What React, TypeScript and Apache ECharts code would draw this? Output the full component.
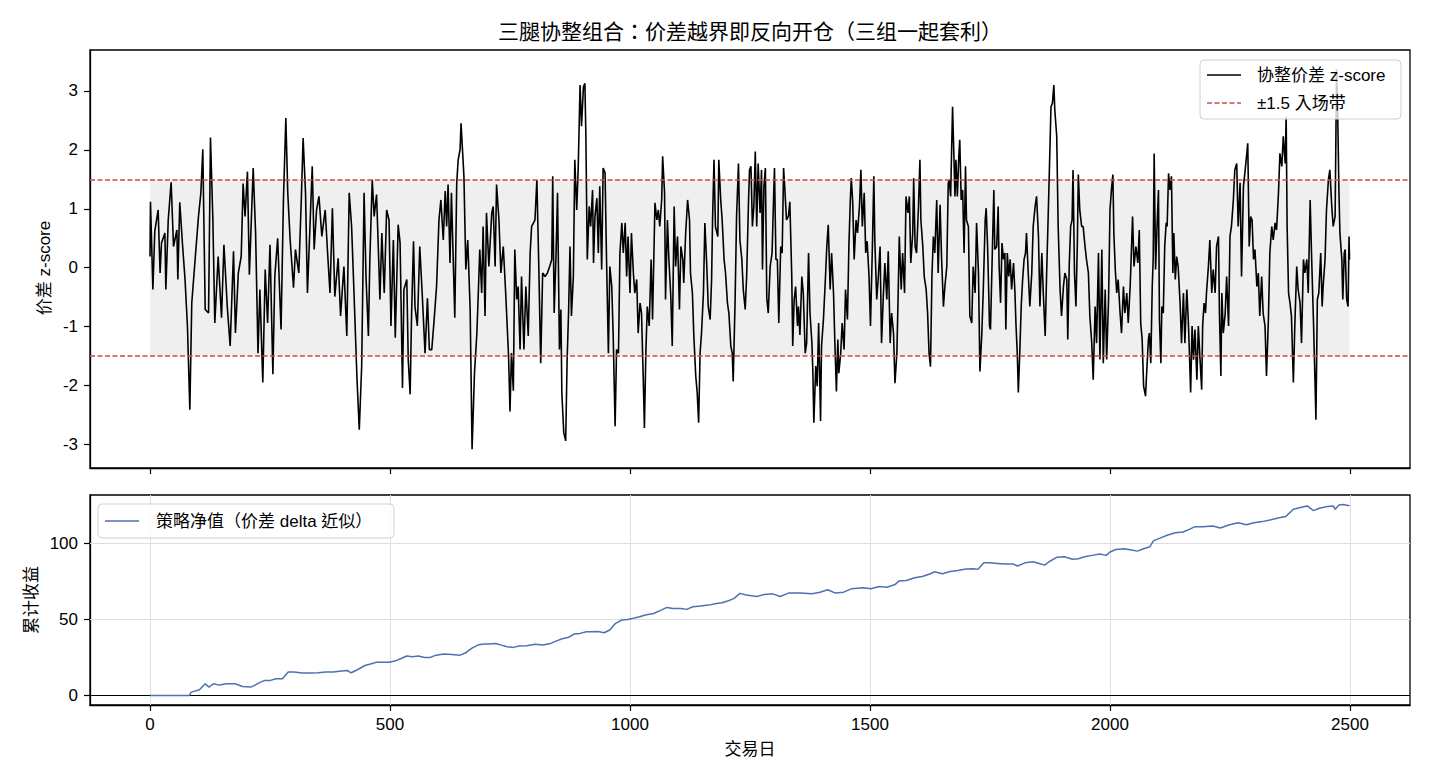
import React, { useEffect, useRef } from "react";
import * as echarts from "echarts";

const FONT = "'Liberation Sans', Arial, 'Noto Sans CJK TC', 'Noto Sans CJK SC', sans-serif";
const TITLE = "三腿协整组合：价差越界即反向开仓（三组一起套利）";
const Z_NAME = "协整价差 z-score";
const BAND_NAME = "±1.5 入场带";
const PNL_NAME = "策略净值（价差 delta 近似）";
const Y1_LABEL = "价差 z-score";
const Y2_LABEL = "累计收益";
const X_LABEL = "交易日";
const X_TICKS = [0, 500, 1000, 1500, 2000, 2500];
const Z_TICKS = [-3, -2, -1, 0, 1, 2, 3];
const PNL_TICKS = [0, 50, 100];
const ENTRY = 1.5;

// z-score of the spread: [trading day, z]
const zPart1: [number, number][] = [
  [0, 0.19], [1, 1.12], [6, -0.37], [10, 0.62], [17, 0.98], [21, -0.09], [24, 0.42], [31, 0.59], [33, -0.37], [38, 0.81],
  [44, 1.45], [49, 0.36], [56, 0.64], [58, -0.2], [62, 1.11], [68, 0.36], [73, -0.2], [78, -0.99], [83, -2.41], [87, -0.6],
  [94, 0.14], [101, 0.87], [106, 1.27], [110, 2.01], [115, -0.71], [122, -0.77], [126, 2.21], [131, 0.81], [135, -0.94], [142, 0.19],
  [149, -0.85], [154, 0.39], [161, -0.66], [167, -1.33], [174, 0.28], [178, -1.11], [184, -0.09], [190, 0.19], [194, 1.43], [198, 0.87],
  [203, 1.63], [207, -0.12], [215, 1.69], [220, 0.59], [225, -1.45], [229, -0.37], [235, -1.95], [240, -0.03], [245, -0.94], [250, 0.39],
  [256, -1.81], [260, -0.15], [266, 0.5], [273, -1.05], [278, 1.15], [283, 2.54], [287, 1.27], [292, 0.47], [299, -0.34], [303, 0.31],
  [310, -0.09], [315, 1.1], [319, 2.2], [324, 1.27], [328, -0.43], [333, 0.64], [338, 1.72], [342, 0.31], [347, 0.98], [352, 1.21],
  [358, 0.53], [365, 0.98], [370, 0.25], [375, -0.43], [380, 1.01], [385, -0.49], [392, 0.16], [397, -0.82], [404, 0.02], [410, -1.16],
  [415, 1.27],
];
const zPart2: [number, number][] = [
  [420, 0.7], [425, -0.43], [431, -1.84], [436, -2.75], [441, -1.67], [446, 1.27], [450, -0.15], [455, -1.16], [458, 0.14], [463, 1.49],
  [467, 0.87], [472, 1.24], [476, 0.25], [479, -0.54], [483, 0.59], [488, -0.43], [493, 0.98], [498, 0.81], [502, -0.99], [507, 0.47],
  [511, -1.19], [517, 0.73], [521, 0.42], [526, -2.04], [529, -0.37], [535, -0.2], [538, -1.56], [542, -2.15], [545, -0.77], [549, 0.45],
  [552, -0.66], [557, -0.99], [562, 0.36], [567, -0.43], [573, -1.45], [578, -0.52], [582, -1.39], [587, -1.39], [592, -0.88], [597, -0.32],
  [602, 0.81], [606, 1.15], [611, 0.47], [615, 1.3], [618, 0.7], [621, 1.41], [625, 0.08], [628, 1.27], [635, -0.85], [639, 1.43],
  [642, 1.83], [646, 2.01], [648, 2.45], [651, 2.0], [654, 1.55], [658, -0.03], [662, 0.47], [667, -0.71], [671, -3.08], [676, -1.79],
  [681, -1.11], [684, -0.43], [687, 0.31], [691, -0.43], [694, 0.7], [698, -0.82], [701, 0.93], [706, 0.02], [712, 0.93], [715, 1.04],
  [719, 0.02], [722, 1.41], [727, 0.81], [731, -0.09], [736, 0.36], [741, -0.43], [747, -1.5], [750, -2.44], [753, -1.45], [757, -2.09],
  [760, 0.31], [764, -0.54], [767, -0.32], [771, -1.39], [774, -0.15], [779, -1.39], [783, -0.32], [788, -1.16], [792, 0.25], [795, 0.7],
  [799, 0.76], [802, 0.81], [806, 1.49], [810, 0.02], [814, -1.62], [818, -0.09], [823, -0.15], [828, -0.09], [833, 0.03],
];
const zPart3: [number, number][] = [
  [837, 0.14], [839, 1.55], [842, -0.77], [846, 0.25], [849, 1.27], [853, -1.39], [856, -0.71], [858, -2.12], [862, -2.8], [866, -2.94],
  [869, -1.56], [872, -0.77], [875, 0.36], [878, -0.82], [882, -0.15], [885, 1.83], [889, 0.98], [892, 1.66], [896, 3.1], [899, 2.4],
  [903, 3.07], [906, 3.13], [908, 2.28], [911, 0.14], [915, 1.04], [918, 0.7], [922, 1.32], [924, 0.08], [927, 0.87], [931, 1.18],
  [934, 0.25], [937, 1.38], [941, -0.03], [944, 1.69], [948, 1.61], [951, 0.19], [955, -1.45], [958, 0.02], [962, -0.32], [965, -1.16],
  [969, -2.69], [972, -1.39], [976, -1.45], [979, 0.25], [983, 0.76], [986, 0.25], [990, 0.76], [993, -0.15], [996, 0.53], [1000, -0.43],
  [1003, 0.59], [1007, -0.09], [1010, -0.43], [1014, -0.2], [1017, -1.11], [1021, -0.6], [1024, -0.77], [1028, -2.01], [1030, -2.72], [1033, -1.45],
  [1036, -0.66], [1040, -0.99], [1044, 0.14], [1047, -0.88], [1052, 1.1], [1056, 0.81], [1059, 0.98], [1062, 0.7], [1066, 1.15], [1068, 1.89],
  [1072, 1.27], [1074, -0.54], [1078, 0.81], [1081, 0.14], [1085, -0.49], [1088, -1.33], [1092, 1.04], [1095, 0.02], [1099, 0.53], [1103, -0.71],
  [1106, 0.36], [1110, 0.14], [1112, -0.26], [1116, 0.59], [1120, 1.15], [1124, 0.81], [1126, -0.09], [1130, -0.43], [1133, -1.16], [1137, -1.84],
  [1140, -2.12], [1143, -2.63], [1146, -1.45], [1149, -1.11], [1153, -0.43], [1156, 0.76], [1160, 0.02], [1163, -0.66], [1167, -0.88], [1170, -0.2],
  [1172, 0.81], [1175, 1.83], [1178, 0.7], [1183, 0.53], [1185, 1.83], [1189, 1.15], [1192, 0.81], [1196, 0.14], [1199, -0.09], [1203, -0.6],
  [1206, -0.77], [1210, -1.33], [1213, -1.45], [1215, -1.93], [1219, -0.54], [1222, 0.87], [1226, 1.77], [1229, 0.47], [1233, 0.14], [1236, -0.37],
  [1240, -0.71], [1243, -0.15], [1247, 1.15], [1249, 1.66],
];
const zPart4: [number, number][] = [
  [1252, 1.72], [1255, 0.7], [1258, 1.04], [1261, 1.97], [1264, 0.7], [1267, 1.77], [1271, 0.93], [1274, 1.66], [1276, -0.03], [1279, 1.38],
  [1282, 1.69], [1285, -0.52], [1288, -0.77], [1292, 0.02], [1296, 0.25], [1299, 1.15], [1301, 1.69], [1304, 0.14], [1307, 0.14], [1310, -0.94],
  [1314, 0.36], [1317, 0.25], [1320, 1.69], [1323, 1.27], [1326, 0.81], [1330, 0.87], [1333, 1.12], [1337, -0.15], [1339, -1.33], [1342, -0.54],
  [1345, -0.32], [1349, -0.99], [1351, -0.66], [1354, -1.14], [1358, -0.15], [1361, -0.43], [1365, -1.45], [1368, -1.28], [1372, 0.25], [1375, -0.77],
  [1379, -1.28], [1381, -1.79], [1383, -2.63], [1387, -1.67], [1390, -2.01], [1393, -0.94], [1397, -2.6], [1399, -1.33], [1403, -0.88], [1407, -0.2],
  [1410, 0.36], [1413, 0.73], [1417, -0.37], [1420, 0.25], [1424, -0.43], [1427, -1.33], [1430, -2.1], [1433, -1.22], [1435, -1.79], [1439, -1.45],
  [1442, -0.94], [1446, -1.39], [1449, -0.37], [1453, -0.88], [1456, 0.36], [1459, 1.15], [1461, 1.52], [1464, 1.1], [1467, 0.14], [1471, 0.81],
  [1474, 0.59], [1478, 1.04], [1481, 1.66], [1484, 0.7], [1488, 1.27], [1491, 0.25], [1494, 0.45], [1498, -0.15], [1501, -0.99], [1505, 0.36],
  [1508, 1.55], [1510, 0.47], [1514, -0.54], [1517, -0.2], [1521, 0.36], [1524, -1.28], [1528, -0.43], [1531, 0.08], [1535, -0.54], [1538, 0.28],
  [1542, -1.28], [1545, -0.77], [1549, -1.11], [1552, -1.96], [1556, -1.45], [1559, -0.32], [1561, 0.53], [1565, -0.37], [1568, 0.25], [1572, -0.43],
  [1575, 1.21], [1579, 0.93], [1582, 1.21], [1585, 0.08], [1589, 0.59], [1591, 1.52], [1594, 0.36], [1597, 0.25], [1601, 1.04], [1604, 1.83],
  [1606, 0.81], [1610, 0.36], [1613, -0.15], [1617, -0.37], [1620, -0.77], [1623, -1.45], [1626, -1.68], [1629, -0.15], [1632, 0.53], [1635, 0.25],
  [1639, 1.15], [1642, -0.09], [1646, 1.07], [1649, 0.19], [1653, -0.66], [1656, -0.32], [1660, 0.02], [1663, 1.43],
];
const zPart5: [number, number][] = [
  [1665, 1.49], [1668, 1.21], [1670, 1.98], [1672, 2.73], [1675, 1.83], [1677, 1.21], [1679, 1.83], [1682, 1.21], [1685, 1.89], [1687, 2.17],
  [1690, 1.15], [1693, 1.32], [1696, 0.25], [1699, 1.72], [1701, 0.81], [1705, 0.7], [1708, -0.82], [1712, -0.94], [1715, 0.02], [1719, -0.43],
  [1722, 0.76], [1726, -0.09], [1729, -1.76], [1733, -1.11], [1736, -0.37], [1740, 0.81], [1742, 1.01], [1745, 0.36], [1749, -0.99], [1751, -1.05],
  [1755, 0.31], [1758, 1.32], [1760, 0.31], [1764, 0.36], [1767, 1.04], [1769, 0.02], [1772, -0.6], [1775, 0.42], [1778, 0.14], [1781, 0.25],
  [1783, -1.05], [1786, 0.25], [1789, -0.15], [1792, 0.14], [1795, -0.37], [1799, 0.08], [1802, -0.43], [1804, -0.94], [1807, -1.5], [1809, -2.12],
  [1812, -1.45], [1815, -0.66], [1818, -0.2], [1821, 0.14], [1824, 0.25], [1826, 0.59], [1830, -0.15], [1833, -0.66], [1837, -0.09], [1840, 0.7],
  [1844, 1.04], [1847, 1.21], [1851, 0.53], [1854, -0.66], [1858, 0.25], [1861, -0.43], [1865, -1.16], [1868, -0.09], [1871, 0.81], [1875, 2.06],
  [1877, 2.73], [1880, 2.79], [1883, 3.1], [1885, 2.68], [1889, 2.23], [1892, 0.7], [1896, -0.37], [1899, -0.82], [1903, -0.32], [1906, -0.09],
  [1910, -0.2], [1912, -1.22], [1915, 0.02], [1918, 0.7], [1921, 0.81], [1923, 1.66], [1926, -0.09], [1929, -0.66], [1932, 0.42], [1934, 1.58],
  [1937, 0.98], [1941, 0.7], [1944, 0.7], [1948, 0.36], [1951, 0.14], [1955, -0.09], [1958, -0.82], [1962, -1.28], [1965, -1.9], [1969, -0.66],
  [1972, -1.28], [1976, 0.25], [1979, -1.56], [1983, 0.31], [1986, -1.62], [1990, -0.37], [1993, -1.56], [1997, -0.54], [2000, 0.98], [2003, 1.32],
  [2006, 1.58], [2008, 0.59], [2011, -0.03], [2014, -0.43], [2017, -0.2], [2021, -0.77], [2024, -1.11], [2028, -0.32], [2031, -0.77], [2035, -0.43],
  [2038, -0.94], [2042, -0.32], [2044, 0.14], [2047, 0.87], [2050, 0.02], [2054, 0.36], [2058, 0.08], [2061, 0.64], [2064, -0.94], [2067, -1.22],
  [2070, -2.01], [2074, -2.18], [2076, -1.84], [2080, -1.22], [2082, -1.11],
];
const zPart6: [number, number][] = [
  [2085, -1.62], [2088, -0.32], [2090, 0.14], [2092, 1.94], [2095, -0.03], [2098, 0.7], [2101, 1.32], [2103, -0.88], [2106, -1.62], [2108, -0.66],
  [2111, -0.77], [2114, 0.36], [2117, 0.76], [2119, 0.7], [2122, 1.6], [2125, 1.32], [2128, 1.55], [2131, -0.09], [2133, 0.59], [2136, -0.2],
  [2139, 0.19], [2142, 0.02], [2146, -0.6], [2149, -1.28], [2153, -0.43], [2156, -1.28], [2160, -0.37], [2163, -0.88], [2165, -1.33], [2168, -2.12],
  [2171, -0.99], [2174, -1.56], [2177, -1.05], [2181, -1.9], [2184, -0.99], [2188, -1.62], [2191, -2.07], [2193, -0.99], [2196, -0.6], [2199, -0.77],
  [2201, -0.43], [2205, 0.02], [2208, 0.47], [2212, -0.43], [2215, -0.03], [2219, -0.43], [2222, 0.36], [2226, 0.53], [2228, -0.77], [2231, -1.84],
  [2233, -0.43], [2236, -1.11], [2240, -0.77], [2243, -0.15], [2247, -0.99], [2250, 0.53], [2253, 0.7], [2257, 1.15], [2260, 1.66], [2264, 1.77],
  [2267, 0.7], [2271, 1.44], [2274, -0.15], [2278, 1.38], [2281, 1.61], [2285, 1.94], [2287, 2.11], [2290, 0.36], [2293, 0.87], [2296, 0.81],
  [2299, 0.14], [2302, 0.31], [2306, -0.32], [2309, -0.09], [2312, -0.82], [2316, -0.15], [2319, -0.77], [2323, -0.99], [2326, -1.84], [2330, -0.88],
  [2333, 0.25], [2337, 0.7], [2340, 0.47], [2344, 0.76], [2347, 0.64], [2351, 1.27], [2354, 1.94], [2358, 1.72], [2361, 2.23], [2365, 1.77],
  [2367, 2.56], [2369, 0.7], [2372, -0.43], [2375, -0.6], [2378, -0.82], [2382, -1.95], [2385, -0.99], [2389, 0.02], [2392, -0.37], [2396, -0.6],
  [2399, -1.28], [2403, 0.14], [2406, -0.09], [2410, 0.14], [2413, -0.43], [2417, 1.15], [2420, 0.19], [2424, -0.94], [2427, -1.9], [2429, -2.58],
  [2432, -0.54], [2435, -0.43], [2439, 0.25], [2442, -0.66], [2444, -0.32], [2448, 0.14], [2451, 0.98], [2455, 1.49], [2458, 1.66], [2462, 1.04],
  [2465, 0.7], [2469, 0.87], [2472, 3.37], [2474, 2.8], [2477, 1.27], [2479, 0.59], [2483, 0.14], [2485, -0.54], [2488, 0.25], [2490, 0.31],
  [2493, -0.54], [2496, -0.66], [2498, 0.53], [2499, 0.14],
];

// cumulative strategy value: [trading day, value]
const pnlPart1: [number, number][] = [
  [0, 0], [82, 0], [86, 2.2], [103, 3.7], [115, 7.7], [123, 5.5], [132, 7.7], [144, 6.8], [160, 7.7], [177, 7.7],
  [193, 5.9], [210, 5.5], [218, 6.6], [226, 8.1], [239, 9.9], [251, 9.9], [263, 11.0], [276, 11.0], [288, 15.4], [300, 15.4],
  [317, 14.7], [333, 14.7], [350, 14.9], [366, 15.4], [382, 15.4], [399, 16.0], [411, 16.4], [419, 14.9], [432, 16.9], [448, 19.7],
  [461, 20.8], [473, 21.9], [485, 21.9], [498, 21.9], [510, 22.6], [522, 24.1], [535, 25.9], [547, 25.4], [559, 25.9], [572, 25.0],
  [584, 25.0], [596, 26.5], [613, 27.2], [629, 27.0], [646, 26.5], [658, 28.1], [670, 30.9], [683, 33.1], [695, 33.8], [707, 33.8],
  [720, 34.2], [732, 33.1], [744, 32.0], [757, 31.6], [769, 32.5], [785, 32.7], [802, 33.6], [818, 33.1], [835, 34.2], [847, 35.9],
  [859, 37.3], [872, 38.2], [884, 40.4], [896, 40.8], [909, 41.9], [921, 41.9], [933, 42.1], [946, 41.2], [958, 43.0], [970, 47.4],
  [983, 49.6], [995, 50.0], [1007, 50.7], [1020, 51.8], [1032, 52.9], [1049, 53.9], [1065, 56.1], [1077, 57.9], [1090, 57.2], [1106, 57.2],
  [1118, 56.6], [1131, 58.3], [1147, 58.8], [1164, 59.4], [1180, 60.5], [1192, 61.0], [1205, 62.3], [1217, 63.8], [1229, 67.1], [1242, 66.0],
];
const pnlPart2: [number, number][] = [
  [1264, 65.1], [1280, 66.4], [1297, 66.8], [1313, 65.1], [1330, 67.3], [1354, 67.3], [1379, 66.8], [1396, 67.9], [1412, 69.5], [1428, 67.3],
  [1445, 67.9], [1461, 70.1], [1486, 70.8], [1502, 70.1], [1519, 71.6], [1535, 71.2], [1552, 72.9], [1560, 75.2], [1576, 75.6], [1593, 77.4],
  [1609, 78.2], [1626, 80.0], [1634, 81.3], [1651, 80.0], [1667, 81.5], [1683, 82.2], [1700, 83.1], [1716, 83.3], [1725, 82.9], [1737, 87.2],
  [1749, 87.2], [1766, 86.8], [1782, 86.4], [1799, 86.4], [1807, 85.1], [1823, 87.2], [1840, 87.9], [1856, 86.4], [1864, 85.7], [1873, 87.9],
  [1889, 90.8], [1905, 91.2], [1922, 89.5], [1934, 89.9], [1947, 91.2], [1963, 92.1], [1979, 93.0], [1992, 92.1], [2000, 94.3], [2012, 96.0],
  [2029, 96.5], [2045, 95.6], [2057, 94.9], [2070, 96.5], [2083, 97.8], [2091, 101.8], [2103, 103.3], [2119, 105.3], [2136, 107.0], [2152, 107.5],
  [2165, 109.2], [2177, 111.0], [2193, 111.0], [2214, 111.4], [2230, 110.1], [2247, 112.1], [2267, 113.6], [2284, 112.3], [2300, 113.6], [2317, 114.3],
  [2333, 115.4], [2350, 116.7], [2366, 117.6], [2382, 122.4], [2399, 123.7], [2411, 124.6], [2424, 121.5], [2436, 123.1], [2453, 124.2], [2465, 124.6],
  [2469, 122.4], [2477, 125.3], [2485, 125.5], [2499, 124.8],
];

const zScore = [...zPart1, ...zPart2, ...zPart3, ...zPart4, ...zPart5, ...zPart6];
const pnl = [...pnlPart1, ...pnlPart2];

const TICK_STYLE = { color: "#000", width: 1.2 };
const LABEL_STYLE = { color: "#000", fontSize: 17, fontFamily: FONT };

function fmt(v: number) {
  return v < 0 ? "-" + Math.abs(v) : String(v);
}

export default function App() {
  const ref = useRef<HTMLDivElement>(null);
  useEffect(() => {
    if (!ref.current) return;
    const chart = echarts.init(ref.current, undefined, { renderer: "svg" });
    const first = zScore[0][0];
    const last = zScore[zScore.length - 1][0];
    const option: any = {
      animation: false,
      backgroundColor: "#fff",
      textStyle: { fontFamily: FONT },
      grid: [
        { left: 90, top: 50, width: 1320, height: 418, show: true, borderColor: "#000", borderWidth: 1.3, backgroundColor: "transparent" },
        { left: 90, top: 495, width: 1320, height: 210, show: true, borderColor: "#000", borderWidth: 1.3, backgroundColor: "transparent" },
      ],
      xAxis: [
        {
          type: "value", gridIndex: 0, min: -125, max: 2625,
          axisLine: { show: true, onZero: false, lineStyle: { color: "#000", width: 1.3 } },
          axisTick: { show: true, inside: false, length: 6, customValues: X_TICKS, lineStyle: TICK_STYLE },
          axisLabel: { show: false },
          splitLine: { show: false },
        },
        {
          type: "value", gridIndex: 1, min: -125, max: 2625,
          axisLine: { show: true, onZero: false, lineStyle: { color: "#000", width: 1.3 } },
          axisTick: { show: true, inside: false, length: 6, customValues: X_TICKS, lineStyle: TICK_STYLE },
          axisLabel: { show: true, customValues: X_TICKS, margin: 11, formatter: fmt, ...LABEL_STYLE },
          splitLine: { show: false },
        },
      ],
      yAxis: [
        {
          type: "value", gridIndex: 0, min: -3.4, max: 3.695,
          axisLine: { show: true, onZero: false, lineStyle: { color: "#000", width: 1.3 } },
          axisTick: { show: true, inside: false, length: 6, customValues: Z_TICKS, lineStyle: TICK_STYLE },
          axisLabel: { show: true, customValues: Z_TICKS, margin: 12, formatter: fmt, ...LABEL_STYLE },
          splitLine: { show: false },
        },
        {
          type: "value", gridIndex: 1, min: -6.28, max: 131.8,
          axisLine: { show: true, onZero: false, lineStyle: { color: "#000", width: 1.3 } },
          axisTick: { show: true, inside: false, length: 6, customValues: PNL_TICKS, lineStyle: TICK_STYLE },
          axisLabel: { show: true, customValues: PNL_TICKS, margin: 12, formatter: fmt, ...LABEL_STYLE },
          splitLine: { show: false },
        },
      ],
      series: [
        {
          type: "line", name: Z_NAME, xAxisIndex: 0, yAxisIndex: 0,
          data: zScore, symbol: "none", silent: true, z: 3,
          lineStyle: { color: "#000", width: 1.6 }, itemStyle: { color: "#000" },
          markArea: {
            silent: true, z: 1,
            itemStyle: { color: "#efefef", borderWidth: 0 },
            data: [[{ xAxis: first, yAxis: -ENTRY }, { xAxis: last, yAxis: ENTRY }]],
          },
          markLine: {
            silent: true, z: 5, symbol: ["none", "none"], label: { show: false },
            lineStyle: { color: "#C44E52", type: [5, 2.5], width: 1.7 },
            data: [{ yAxis: ENTRY }, { yAxis: -ENTRY }],
          },
        },
        {
          type: "line", name: PNL_NAME, xAxisIndex: 1, yAxisIndex: 1,
          data: pnl, symbol: "none", silent: true, z: 3,
          lineStyle: { color: "#4C72B0", width: 1.5 }, itemStyle: { color: "#4C72B0" },
          markLine: {
            silent: true, z: 1, symbol: ["none", "none"], label: { show: false },
            lineStyle: { color: "#dedede", type: "solid", width: 1 },
            data: [
              ...X_TICKS.map((x) => ({ xAxis: x })),
              ...PNL_TICKS.filter((v) => v !== 0).map((y) => ({ yAxis: y })),
              { yAxis: 0, lineStyle: { color: "#000", width: 1.2, type: "solid" } },
            ],
          },
        },
      ],
      graphic: [
        { type: "text", x: 750, y: 31, z: 100, style: { text: TITLE, fontSize: 21, fontFamily: FONT, fill: "#000", align: "center", verticalAlign: "middle" } },
        { type: "text", x: 44, y: 268, rotation: Math.PI / 2, z: 100, style: { text: Y1_LABEL, fontSize: 17, fontFamily: FONT, fill: "#000", align: "center", verticalAlign: "middle" } },
        { type: "text", x: 31, y: 600, rotation: Math.PI / 2, z: 100, style: { text: Y2_LABEL, fontSize: 17, fontFamily: FONT, fill: "#000", align: "center", verticalAlign: "middle" } },
        { type: "text", x: 750, y: 749, z: 100, style: { text: X_LABEL, fontSize: 17, fontFamily: FONT, fill: "#000", align: "center", verticalAlign: "middle" } },
        // legend (top)
        { type: "rect", z: 100, shape: { x: 1200, y: 60, width: 201, height: 59, r: 4 }, style: { fill: "rgba(255,255,255,0.8)", stroke: "#d0d0d0", lineWidth: 1 } },
        { type: "line", z: 101, shape: { x1: 1207, y1: 75, x2: 1241, y2: 75 }, style: { stroke: "#000", lineWidth: 1.6 } },
        { type: "text", z: 101, x: 1257, y: 75, style: { text: Z_NAME, fontSize: 17, fontFamily: FONT, fill: "#000", align: "left", verticalAlign: "middle" } },
        { type: "line", z: 101, shape: { x1: 1207, y1: 103, x2: 1241, y2: 103 }, style: { stroke: "#C44E52", lineWidth: 1.7, lineDash: [5, 2.5] } },
        { type: "text", z: 101, x: 1257, y: 103, style: { text: BAND_NAME, fontSize: 17, fontFamily: FONT, fill: "#000", align: "left", verticalAlign: "middle" } },
        // legend (bottom)
        { type: "rect", z: 100, shape: { x: 98, y: 504, width: 296, height: 34, r: 4 }, style: { fill: "rgba(255,255,255,0.8)", stroke: "#d0d0d0", lineWidth: 1 } },
        { type: "line", z: 101, shape: { x1: 105, y1: 521, x2: 139, y2: 521 }, style: { stroke: "#4C72B0", lineWidth: 1.6 } },
        { type: "text", z: 101, x: 156, y: 521, style: { text: PNL_NAME, fontSize: 17, fontFamily: FONT, fill: "#000", align: "left", verticalAlign: "middle" } },
      ],
    };
    chart.setOption(option);
    return () => chart.dispose();
  }, []);
  return <div ref={ref} style={{ position: "fixed", left: 0, top: 0, width: 1430, height: 780, background: "#fff" }} />;
}
